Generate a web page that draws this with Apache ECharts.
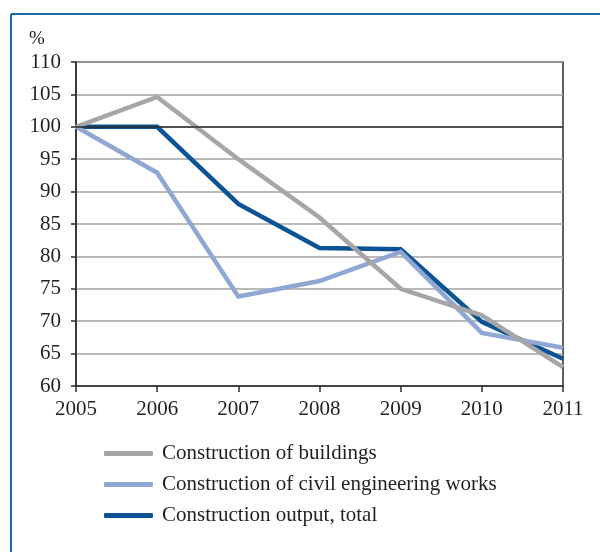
<!DOCTYPE html>
<html>
<head>
<meta charset="utf-8">
<script src="https://cdn.jsdelivr.net/npm/echarts@6/dist/echarts.min.js"></script>
<style>
  html, body { margin: 0; padding: 0; background: #fff; }
  #chart { width: 600px; height: 552px; }
</style>
</head>
<body>
<div id="chart"></div>
<script>
// Construction output index, 2005 = 100
var years = ['2005', '2006', '2007', '2008', '2009', '2010', '2011'];
var buildings = [100, 104.6, 95.0, 86.0, 75.0, 70.9, 62.9];
var civilWorks = [100, 92.9, 73.8, 76.2, 80.7, 68.2, 65.9];
var totalOutput = [100, 100, 88.1, 81.3, 81.1, 69.9, 64.2];
var seriesNames = [
  'Construction of buildings',
  'Construction of civil engineering works',
  'Construction output, total'
];
var yMin = 60, yMax = 110, yStep = 5, baseLine = 100;

var FONT = '"Liberation Serif", "DejaVu Serif", serif';
var INK = '#231f20';
var C_BUILD = '#a6a6a8';
var C_CIVIL = '#8fa7d2';
var C_TOTAL = '#0b5394';
var FRAME = '#1d67ad';

var chart = echarts.init(document.getElementById('chart'), null, { renderer: 'canvas' });

function lineSeries(name, data, color, z) {
  return {
    name: name,
    type: 'line',
    data: data,
    symbol: 'none',
    z: z,
    lineStyle: { color: color, width: 4.5, cap: 'butt', join: 'miter' },
    itemStyle: { color: color },
    emphasis: { disabled: true }
  };
}

chart.setOption({
  animation: false,
  backgroundColor: '#fff',
  textStyle: { fontFamily: FONT, color: INK },
  graphic: [
    // outer frame: top and left rules
    { type: 'line', shape: { x1: 11, y1: 14, x2: 600, y2: 14 }, style: { stroke: FRAME, lineWidth: 2 } },
    { type: 'line', shape: { x1: 11, y1: 14, x2: 11, y2: 552 }, style: { stroke: FRAME, lineWidth: 2 } },
    { type: 'text', left: 29, top: 30, style: { text: '%', font: '19px ' + FONT, fill: INK } }
  ],
  grid: {
    left: 76, top: 62, width: 487, height: 324,
    show: true, borderColor: '#2b2b2b', borderWidth: 1.5, backgroundColor: 'transparent'
  },
  legend: {
    orient: 'vertical',
    left: 104, top: 443,
    padding: 0,
    itemWidth: 49, itemHeight: 5, itemGap: 10,
    icon: 'roundRect',
    data: seriesNames,
    selectedMode: false,
    textStyle: { fontFamily: FONT, fontSize: 21, color: INK, padding: [0, 0, 0, 4] }
  },
  xAxis: {
    type: 'category',
    data: years,
    boundaryGap: false,
    axisLine: { lineStyle: { color: '#2b2b2b', width: 1.5 } },
    axisTick: { show: true, length: 6, lineStyle: { color: '#2b2b2b', width: 1.5 } },
    axisLabel: { fontFamily: FONT, fontSize: 21, color: INK, margin: 13 },
    splitLine: { show: false }
  },
  yAxis: {
    type: 'value',
    min: yMin, max: yMax, interval: yStep,
    axisLine: { show: true, lineStyle: { color: '#2b2b2b', width: 1.5 } },
    axisTick: { show: true, length: 5, lineStyle: { color: '#2b2b2b', width: 1.5 } },
    axisLabel: { fontFamily: FONT, fontSize: 21, color: INK, margin: 15 },
    splitLine: { show: true, lineStyle: { color: '#a3a3a3', width: 1.5 } }
  },
  series: [
    {
      name: 'base',
      type: 'line',
      data: [],
      z: 1,
      markLine: {
        silent: true,
        symbol: 'none',
        label: { show: false },
        lineStyle: { color: '#2b2b2b', width: 1.5, type: 'solid' },
        data: [{ yAxis: baseLine }]
      }
    },
    lineSeries(seriesNames[2], totalOutput, C_TOTAL, 2),
    lineSeries(seriesNames[1], civilWorks, C_CIVIL, 3),
    lineSeries(seriesNames[0], buildings, C_BUILD, 4)
  ]
});
</script>
</body>
</html>
